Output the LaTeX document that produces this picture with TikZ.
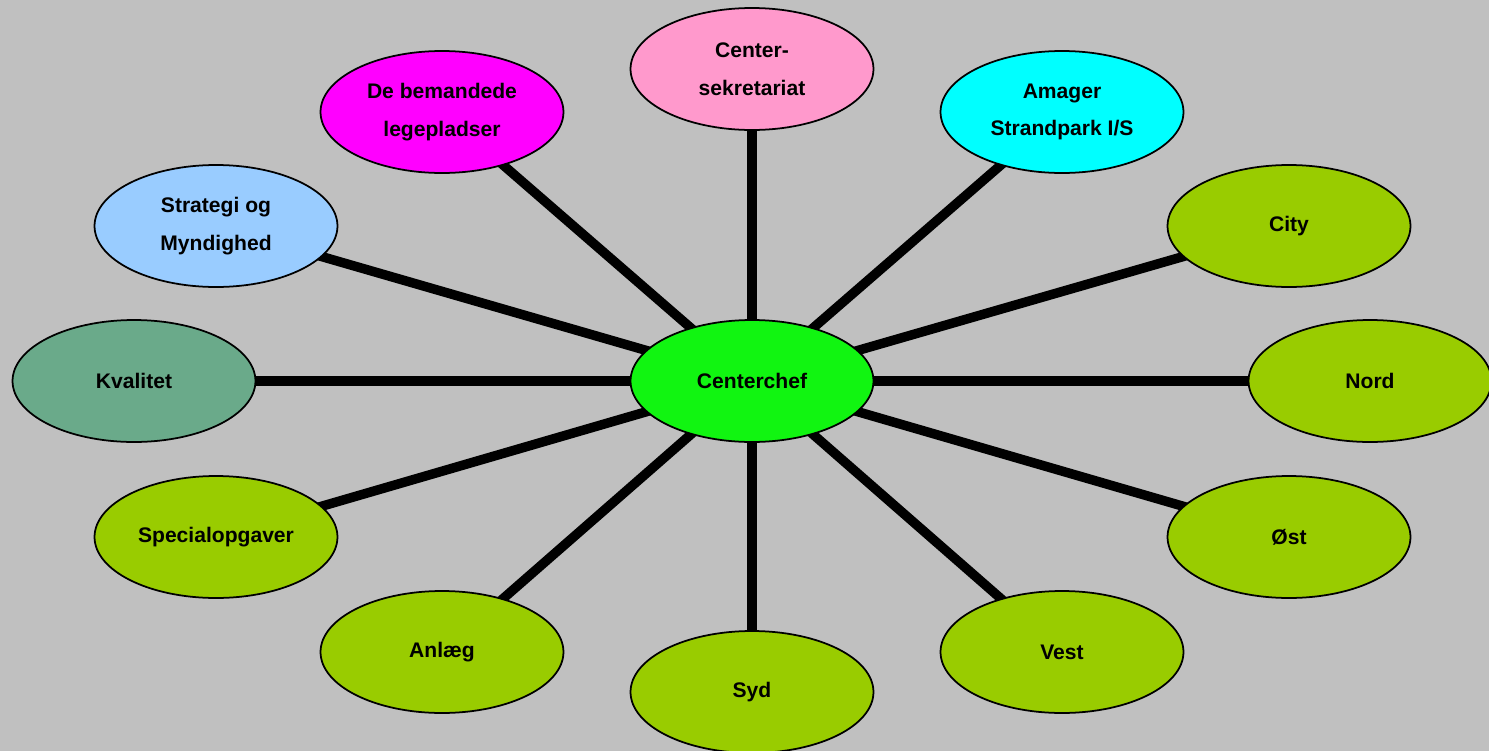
\documentclass[tikz,border=0pt]{standalone}
\usepackage{fontspec}
\setmainfont{Liberation Sans}
\usepackage{tikz}
\usetikzlibrary{shapes.geometric,backgrounds}
\definecolor{bgGray}{HTML}{C0C0C0}
\definecolor{hubGreen}{HTML}{11F511}
\definecolor{leafGreen}{HTML}{99CC00}
\definecolor{sekPink}{HTML}{FF99CC}
\definecolor{legeMagenta}{HTML}{FF00FF}
\definecolor{amagerCyan}{HTML}{00FFFF}
\definecolor{stratBlue}{HTML}{99CCFF}
\definecolor{kvalGreen}{HTML}{6AAA8A}
\tikzset{%
bubble/.style={ellipse, draw=black, line width=1pt, inner sep=0pt, minimum width=4.86cm, minimum height=2.44cm, align=center, font={\fontsize{12}{21.5}\selectfont\bfseries}},
unit/.style={bubble, fill=leafGreen},
spoke/.style={draw=black, line width=5.4pt}
}
\begin{document}
\begin{tikzpicture}[x=0.02cm, y=-0.02cm]
		\useasboundingbox (0,0) rectangle (1489,751);
		\node[bubble, fill=hubGreen] (chef) at (752,381) {Centerchef};
		\node[bubble, fill=sekPink] (sek) at (752,69) {Center-\\sekretariat};
		\node[bubble, fill=legeMagenta] (lege) at (442,112) {De bemandede\\legepladser};
		\node[bubble, fill=amagerCyan] (amager) at (1062,112) {Amager\\Strandpark I/S};
		\node[bubble, fill=stratBlue] (strategi) at (216,226) {Strategi og\\Myndighed};
		\node[unit] (city) at (1289,226) {City};
		\node[bubble, fill=kvalGreen] (kvalitet) at (134,381) {Kvalitet};
		\node[unit] (nord) at (1370,381) {Nord};
		\node[unit] (special) at (216,537) {Specialopgaver};
		\node[unit] (oest) at (1289,537) {Øst};
		\node[unit] (anlaeg) at (442,652) {Anlæg};
		\node[unit] (vest) at (1062,652) {Vest};
		\node[unit] (syd) at (752,692) {Syd};

		\begin{scope}[on background layer]
		\fill[bgGray] (0,0) rectangle (1489,751);
		\foreach \target in {sek,lege,amager,strategi,city,kvalitet,nord,special,oest,anlaeg,vest,syd}
			\path[spoke] (chef.center) -- (\target.center);
		\end{scope}
	\end{tikzpicture}
\end{document}
